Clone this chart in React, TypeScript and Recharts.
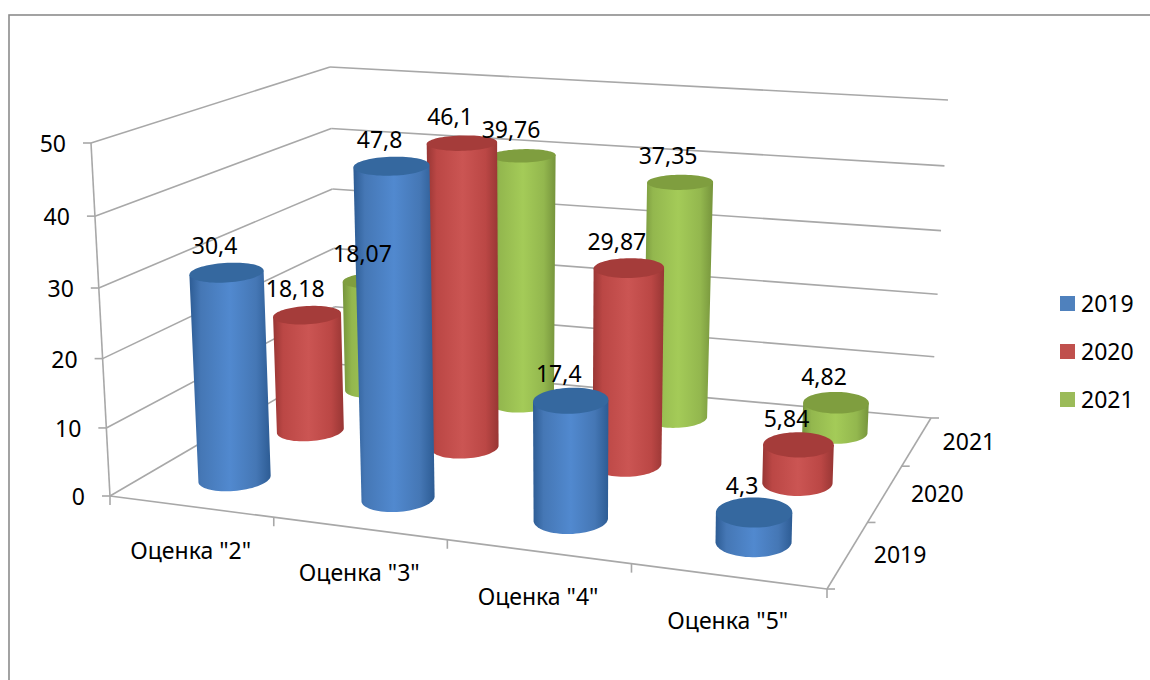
import React from 'react';
import { ComposedChart, Bar, XAxis, YAxis, Customized } from 'recharts';

const categories = ['Оценка "2"', 'Оценка "3"', 'Оценка "4"', 'Оценка "5"'];
const years = ['2019', '2020', '2021'];
const values2019 = [30.4, 47.8, 17.4, 4.3];
const values2020 = [18.18, 46.1, 29.87, 5.84];
const values2021 = [18.07, 39.76, 37.35, 4.82];
const yTicks = [0, 10, 20, 30, 40, 50];

const data = categories.map((name, i) => ({
  name,
  y2019: values2019[i],
  y2020: values2020[i],
  y2021: values2021[i],
}));

const W = 1150, H = 680;
const LEFT = 110, RIGHT = 827, TOP = 143, BOTTOM = 496;
const PLOT_W = RIGHT - LEFT, PLOT_H = BOTTOM - TOP, MAX = 50;
const FONT = '"Noto Sans", sans-serif';
const FS = 23;

type P = [number, number];
const quad = (p0: P, p1: P, p2: P, p3: P) => {
  const dx1 = p1[0] - p2[0], dx2 = p3[0] - p2[0], sx = p0[0] - p1[0] + p2[0] - p3[0];
  const dy1 = p1[1] - p2[1], dy2 = p3[1] - p2[1], sy = p0[1] - p1[1] + p2[1] - p3[1];
  const den = dx1 * dy2 - dx2 * dy1;
  const g = (sx * dy2 - dx2 * sy) / den, h = (dx1 * sy - sx * dy1) / den;
  const a = p1[0] - p0[0] + g * p1[0], b = p3[0] - p0[0] + h * p3[0];
  const d = p1[1] - p0[1] + g * p1[1], e = p3[1] - p0[1] + h * p3[1];
  return (u: number, v: number): P => {
    const w = g * u + h * v + 1;
    return [(a * u + b * v + p0[0]) / w, (d * u + e * v + p0[1]) / w];
  };
};
const floorMap = quad([110, 496], [827, 589], [931, 418], [336, 364]);
// height vector of the full axis at the four floor corners
const upFL: P = [-19, -353], upFR: P = [8, -365], upBR: P = [17, -318], upBL: P = [-6, -297];
const project = (u: number, v: number, val: number): P => {
  const a = floorMap(u + 0.05 * u * (1 - u), v);
  const r = val / MAX;
  const t = r - 0.045 * r * (1 - r);
  const f = [upFL[0] + (upFR[0] - upFL[0]) * u, upFL[1] + (upFR[1] - upFL[1]) * u];
  const b = [upBL[0] + (upBR[0] - upBL[0]) * u, upBL[1] + (upBR[1] - upBL[1]) * u];
  return [a[0] + (f[0] + (b[0] - f[0]) * v) * t, a[1] + (f[1] + (b[1] - f[1]) * v) * t];
};

const palettes = [
  { edge: '#2d5c94', main: '#4577b5', light: '#5189cf', top: '#35689f', legend: '#4f81bd' },
  { edge: '#983634', main: '#bb4745', light: '#cb5553', top: '#a53c3a', legend: '#c0504d' },
  { edge: '#76943c', main: '#93b74e', light: '#a4cb58', top: '#7f9e3f', legend: '#9bbb59' },
];

const RU = 0.0485, RV = 0.077, VSHIFT = 0.006;
const N = 72;
const circle = (u: number, v: number, val: number): P[] => {
  const pts: P[] = [];
  for (let i = 0; i < N; i++) {
    const t = (i / N) * Math.PI * 2;
    pts.push(project(u + RU * Math.cos(t), v + RV * Math.sin(t), val));
  }
  return pts;
};
const toPath = (pts: P[]) => 'M' + pts.map((p) => p[0].toFixed(1) + ' ' + p[1].toFixed(1)).join('L') + 'Z';

const Cylinder = (props: any) => {
  const { height, index, s } = props;
  const u = (index + 0.5) / categories.length;
  const v = (s + 0.5) / years.length + VSHIFT;
  const val = (height / PLOT_H) * MAX;
  const base = circle(u, v, 0);
  const top = circle(u, v, val);
  const pal = palettes[s];
  const id = `cyl-${s}-${index}`;
  const extremes = (pts: P[]) => {
    let l = 0, r = 0;
    pts.forEach((p, i) => {
      if (p[0] < pts[l][0]) l = i;
      if (p[0] > pts[r][0]) r = i;
    });
    return [l, r];
  };
  const [bl, br] = extremes(base);
  const [tl, tr] = extremes(top);
  // body outline: top edge, then the front arc of the base from right to left
  const outline: P[] = [top[tl], top[tr]];
  for (let i = br; ; i = (i - 1 + N) % N) {
    outline.push(base[i]);
    if (i === bl) break;
  }
  return (
    <g>
      <defs>
        <linearGradient id={id} x1="0" x2="1" y1="0" y2="0">
          <stop offset="0" stopColor={pal.edge} />
          <stop offset="0.14" stopColor={pal.main} />
          <stop offset="0.5" stopColor={pal.light} />
          <stop offset="0.82" stopColor={pal.main} />
          <stop offset="1" stopColor={pal.edge} />
        </linearGradient>
      </defs>
      <path d={toPath(outline)} fill={`url(#${id})`} />
      <path d={toPath(top)} fill={pal.top} />
    </g>
  );
};

const fmt = (v: number) => String(v).replace('.', ',');

const ValueLabel = (props: any) => {
  const { height, index, s, value } = props;
  const u = (index + 0.5) / categories.length;
  const v = (s + 0.5) / years.length + VSHIFT;
  const val = (height / PLOT_H) * MAX;
  const c = project(u, v, val);
  const n = Array.isArray(value) ? value[1] : value;
  return (
    <text x={c[0] - 12} y={c[1] - 27} textAnchor="middle" dominantBaseline="central" fontFamily={FONT} fontSize={FS} fill="#000">
      {fmt(n)}
    </text>
  );
};

const GRID = '#a8a8a8';
const Walls = () => {
  const seg = (a: P, b: P, k: string) => (
    <line key={k} x1={a[0]} y1={a[1]} x2={b[0]} y2={b[1]} stroke={GRID} strokeWidth={1.6} />
  );
  const out: React.ReactNode[] = [];
  yTicks.forEach((t) => {
    out.push(seg(project(0, 0, t), project(0, 1, t), `l${t}`));
    if (t > 0) out.push(seg(project(0, 1, t), project(1, 1, t), `b${t}`));
    const p = project(0, 0, t);
    out.push(seg([p[0] - 8, p[1]], p, `t${t}`));
  });
  const back0 = project(0, 1, 0);
  const backR = project(1, 1, 0);
  out.push(seg(back0, backR, 'back'));
  const a0 = project(0, 0, 0), a1 = project(0, 0, MAX);
  out.push(seg(a0, a1, 'yaxis'));
  const f1 = project(1, 0, 0);
  out.push(seg(a0, f1, 'front'));
  out.push(seg(f1, backR, 'side'));
  categories.forEach((_, i) => {
    const p = project(i / categories.length, 0, 0);
    out.push(seg(p, [p[0], p[1] + 9], `xt${i}`));
  });
  out.push(seg(f1, [f1[0], f1[1] + 9], 'xtEnd'));
  years.forEach((_, i) => {
    const p = project(1, i / years.length, 0);
    out.push(seg(p, [p[0] + 8, p[1]], `zt${i}`));
  });
  out.push(seg(backR, [backR[0] + 8, backR[1]], 'ztEnd'));
  return (
    <g>
      <rect x={9} y={15} width={1200} height={720} fill="#fff" stroke="#8c8c8c" strokeWidth={1.6} />
      {out}
    </g>
  );
};

const Overlay = () => (
  <g fontFamily={FONT} fontSize={FS} fill="#000">
    {years.map((y, i) => {
      const p = project(1, (i + 0.5) / years.length, 0);
      return (
        <text key={y} x={p[0] + 52} y={p[1]} textAnchor="middle" dominantBaseline="central">
          {y}
        </text>
      );
    })}
    {years.map((y, i) => (
      <g key={y}>
        <rect x={1060} y={296 + i * 48} width={15} height={15} fill={palettes[i].legend} />
        <text x={1081} y={302.5 + i * 48} dominantBaseline="central">
          {y}
        </text>
      </g>
    ))}
  </g>
);

const XTick = (props: any) => {
  const u = (props.x - LEFT) / PLOT_W;
  const p = project(u, 0, 0);
  return (
    <text x={p[0]} y={p[1] + 44} textAnchor="middle" dominantBaseline="central" fontFamily={FONT} fontSize={FS} fill="#000">
      {props.payload.value}
    </text>
  );
};

const YTick = (props: any) => {
  const val = props.payload.value;
  const p = project(0, 0, val);
  return (
    <text x={p[0] - 25} y={p[1]} textAnchor="end" dominantBaseline="central" fontFamily={FONT} fontSize={FS} fill="#000">
      {val}
    </text>
  );
};

const seriesKeys = ['y2021', 'y2020', 'y2019'];
const seriesIdx = [2, 1, 0];

export default function App() {
  return (
    <div style={{ position: 'fixed', left: 0, top: 0, width: W, height: H, overflow: 'hidden', background: '#fff' }}>
      <ComposedChart
        width={W}
        height={H}
        data={data}
        margin={{ top: TOP, bottom: H - BOTTOM - 1, left: LEFT - 1, right: W - RIGHT }}
        barGap={0}
      >
        <Customized component={Walls} />
        <XAxis dataKey="name" height={1} axisLine={false} tickLine={false} tick={<XTick />} interval={0} />
        <YAxis width={1} domain={[0, MAX]} ticks={yTicks} axisLine={false} tickLine={false} tick={<YTick />} />
        {seriesKeys.map((k, i) => (
          <Bar
            key={k}
            dataKey={k}
            isAnimationActive={false}
            shape={(p: any) => <Cylinder {...p} s={seriesIdx[i]} />}
          />
        ))}
        {seriesKeys.map((k, i) => (
          <Bar
            key={k + '-label'}
            dataKey={k}
            isAnimationActive={false}
            shape={(p: any) => <ValueLabel {...p} s={seriesIdx[i]} />}
          />
        ))}
        <Customized component={Overlay} />
      </ComposedChart>
    </div>
  );
}
